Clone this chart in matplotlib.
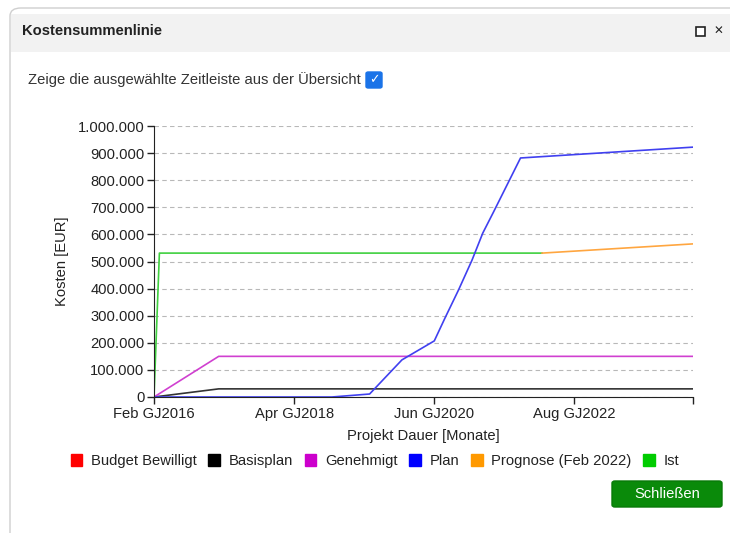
import matplotlib
matplotlib.use("Agg")
import matplotlib.pyplot as plt
from matplotlib.patches import FancyBboxPatch, Rectangle, Patch
from matplotlib.ticker import FuncFormatter

plt.rcParams['font.family'] = ['Liberation Sans', 'DejaVu Sans']

# Daten (Monate ab Feb GJ2016, Kosten in EUR)
monate_basis = [0, 12, 100]
kosten_basis = [0, 30000, 30000]

monate_genehmigt = [0, 12, 100]
kosten_genehmigt = [0, 150000, 150000]

monate_plan = [0, 33, 40, 46, 52, 54, 56.5, 59, 61, 63, 68, 100]
kosten_plan = [0, 0, 11000, 137000, 207000, 292000, 395000, 505000, 605000, 683000, 882000, 922000]

monate_prognose = [72, 100]
kosten_prognose = [531000, 565000]

monate_ist = [0, 1, 72]
kosten_ist = [0, 531000, 531000]

tick_monate = [0, 26, 52, 78, 100]
tick_labels = ["Feb GJ2016", "Apr GJ2018", "Jun GJ2020", "Aug GJ2022", ""]

legende_namen = ["Budget Bewilligt", "Basisplan", "Genehmigt", "Plan", "Prognose (Feb 2022)", "Ist"]
legende_farben = ["#ff0000", "#000000", "#cc00cc", "#0000ff", "#ff9900", "#00cc00"]

W, H = 730, 533
fig = plt.figure(figsize=(W / 100, H / 100), dpi=100)


def fx(px):
    return px / W


def fy(py):
    return 1 - py / H


# Dialog-Rahmen
fig.patches.append(FancyBboxPatch((fx(10), fy(545)), fx(740), fy(8) - fy(545),
                                  boxstyle="round,pad=0,rounding_size=0.015",
                                  transform=fig.transFigure, facecolor="white",
                                  edgecolor="#cfcfcf", linewidth=1, zorder=-2))
fig.patches.append(Rectangle((fx(11), fy(52)), fx(730), fy(14) - fy(52),
                             transform=fig.transFigure, facecolor="#f2f2f2",
                             edgecolor="none", zorder=-1))
fig.text(fx(22), fy(31), "Kostensummenlinie", fontsize=10.6, fontweight="bold",
         color="#222222", va="center")
fig.patches.append(Rectangle((fx(696), fy(36)), fx(9), fy(27) - fy(36),
                             transform=fig.transFigure, facecolor="white",
                             edgecolor="#222222", linewidth=1.2, zorder=1))
fig.text(fx(718), fy(31), "✕", fontsize=8.5, fontweight="bold", color="#222222",
         ha="center", va="center", family=["DejaVu Sans"])

fig.text(fx(28), fy(80), "Zeige die ausgewählte Zeitleiste aus der Übersicht",
         fontsize=10.6, color="#333333", va="center")
fig.patches.append(FancyBboxPatch((fx(366), fy(88)), fx(16), fy(72) - fy(88),
                                  boxstyle="round,pad=0,rounding_size=0.003",
                                  transform=fig.transFigure, facecolor="#1a73e8",
                                  edgecolor="#1a73e8", zorder=1))
fig.text(fx(374), fy(80), "✓", fontsize=9, fontweight="bold", color="white",
         ha="center", va="center", family=["DejaVu Sans"])

# Diagramm
ax = fig.add_axes([fx(154), fy(397), fx(693) - fx(154), fy(126) - fy(397)])
ax.set_facecolor("none")
ax.plot(monate_basis, kosten_basis, color="#333333", lw=1.2)
ax.plot(monate_genehmigt, kosten_genehmigt, color="#d040d0", lw=1.2)
ax.plot(monate_ist, kosten_ist, color="#40d040", lw=1.2)
ax.plot(monate_prognose, kosten_prognose, color="#ffa640", lw=1.2)
ax.plot(monate_plan, kosten_plan, color="#4040f0", lw=1.2)

ax.set_xlim(0, 100)
ax.set_ylim(0, 1000000)
ax.set_yticks(range(0, 1000001, 100000))
ax.yaxis.set_major_formatter(FuncFormatter(lambda v, p: f"{v:,.0f}".replace(",", ".")))
ax.set_xticks(tick_monate)
ax.set_xticklabels(tick_labels)
ax.grid(axis="y", linestyle=(0, (4, 3)), color="#b8b8b8", linewidth=0.8)
ax.set_axisbelow(True)
for s in ["top", "right"]:
    ax.spines[s].set_visible(False)
for s in ["left", "bottom"]:
    ax.spines[s].set_color("#222222")
ax.tick_params(axis="both", direction="out", length=5, width=1, color="#222222",
               labelsize=10.6, labelcolor="#222222", pad=2)
ax.set_xlabel("Projekt Dauer [Monate]", fontsize=10.6, color="#222222", labelpad=6)
ax.set_ylabel("Kosten [EUR]", fontsize=10.6, color="#222222", labelpad=6)

handles = [Patch(facecolor=c, edgecolor=c) for c in legende_farben]
fig.legend(handles, legende_namen, loc="center", bbox_to_anchor=(fx(375), fy(461)),
           ncol=6, frameon=False, fontsize=10.6, handlelength=0.8, handleheight=0.8,
           handletextpad=0.6, columnspacing=0.77, labelcolor="#222222")

# Schaltfläche
fig.patches.append(FancyBboxPatch((fx(612), fy(507)), fx(110), fy(481) - fy(507),
                                  boxstyle="round,pad=0,rounding_size=0.004",
                                  transform=fig.transFigure, facecolor="#0a8a0a",
                                  edgecolor="#087a08", zorder=1))
fig.text(fx(667), fy(494), "Schließen", fontsize=10.6, color="white",
         ha="center", va="center", zorder=2)

fig.savefig("out.png", dpi=100)
